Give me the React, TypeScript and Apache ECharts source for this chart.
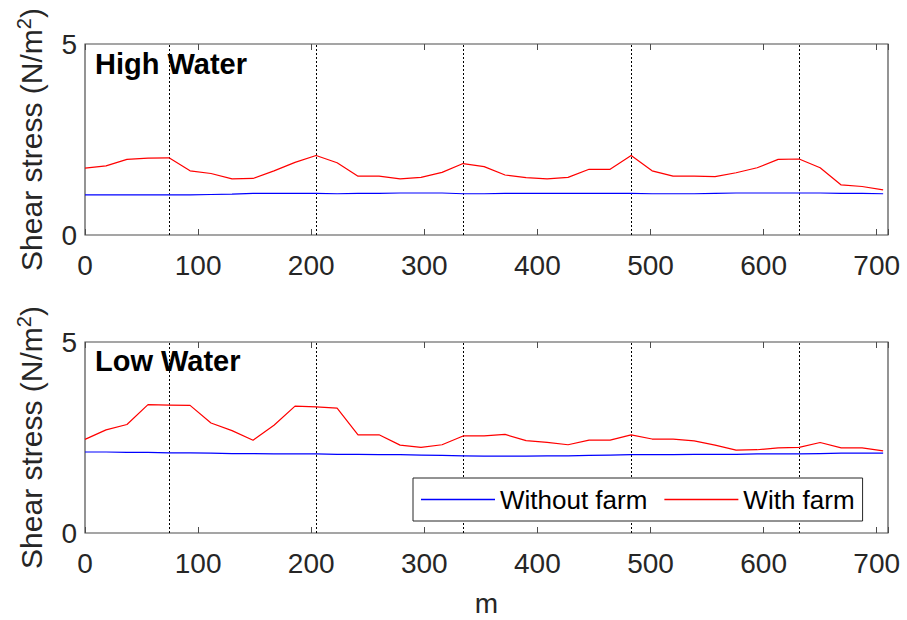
import React, { useEffect, useRef } from "react";
import * as echarts from "echarts";

// Distance along transect (m)
const distance = [
  0, 18.6, 37.1, 55.7, 74.3, 92.9, 111.4, 130, 148.6, 167.1, 185.7, 204.3, 222.9, 241.4, 260,
  278.6, 297.1, 315.7, 334.3, 352.9, 371.4, 390, 408.6, 427.1, 445.7, 464.3, 482.9, 501.4, 520,
  538.6, 557.1, 575.7, 594.3, 612.9, 631.4, 650, 668.6, 687.1, 705.7,
];

// High water
const highWithout = [
  1.05, 1.05, 1.05, 1.05, 1.05, 1.05, 1.06, 1.07, 1.09, 1.09, 1.09, 1.09, 1.08, 1.09, 1.09, 1.1,
  1.1, 1.1, 1.08, 1.08, 1.09, 1.09, 1.09, 1.09, 1.09, 1.09, 1.09, 1.08, 1.08, 1.08, 1.09, 1.1,
  1.1, 1.1, 1.1, 1.1, 1.09, 1.09, 1.08,
];
const highWith = [
  1.75, 1.81, 1.98, 2.01, 2.02, 1.68, 1.61, 1.47, 1.48, 1.68, 1.9, 2.08, 1.89, 1.54, 1.54, 1.47,
  1.51, 1.64, 1.87, 1.79, 1.57, 1.5, 1.47, 1.51, 1.72, 1.72, 2.08, 1.68, 1.54, 1.54, 1.53, 1.63,
  1.76, 1.98, 1.99, 1.76, 1.31, 1.27, 1.18,
];

// Low water
const lowWithout = [
  2.12, 2.12, 2.11, 2.11, 2.1, 2.1, 2.09, 2.08, 2.08, 2.07, 2.07, 2.07, 2.06, 2.06, 2.05, 2.05,
  2.04, 2.03, 2.02, 2.01, 2.01, 2.01, 2.02, 2.02, 2.03, 2.04, 2.05, 2.05, 2.05, 2.06, 2.06, 2.06,
  2.07, 2.07, 2.07, 2.08, 2.09, 2.09, 2.09,
];
const lowWith = [
  2.45, 2.7, 2.84, 3.36, 3.35, 3.34, 2.88, 2.68, 2.43, 2.82, 3.32, 3.3, 3.27, 2.57, 2.57, 2.3,
  2.24, 2.31, 2.54, 2.54, 2.58, 2.42, 2.37, 2.31, 2.43, 2.43, 2.57, 2.46, 2.46, 2.41, 2.3, 2.17,
  2.18, 2.23, 2.24, 2.37, 2.23, 2.23, 2.15,
];

// Farm boundary markers (m)
const farmLines = [74.3, 204.3, 334.3, 482.9, 631.4];

const xTicks = { min: 0, max: 710, interval: 100 };
const yTicks = { min: 0, max: 5, interval: 5 };
const panelTitles = ["High Water", "Low Water"];
const seriesNames = ["Without farm", "With farm"];
const yLabel = "Shear stress (N/m{sup|2})";
const xLabel = "m";

const FONT = "'Liberation Sans', Arial, Helvetica, sans-serif";
const TXT = "#262626";

export default function App() {
  const ref = useRef<HTMLDivElement>(null);
  useEffect(() => {
    if (!ref.current) return;
    const chart = echarts.init(ref.current, undefined, { renderer: "svg" });
    const zip = (ys: number[]) => distance.map((d, i) => [d, ys[i]]);

    const grids = [
      { left: 85, top: 44, width: 803, height: 191 },
      { left: 85, top: 342, width: 803, height: 191 },
    ];

    const xAxes: any[] = [];
    const yAxes: any[] = [];
    grids.forEach((_, g) => {
      xAxes.push({
        type: "value",
        gridIndex: g,
        position: "bottom",
        ...xTicks,
        axisLine: { show: false },
        axisTick: { show: true, inside: true, length: 6, lineStyle: { color: "#4d4d4d", width: 1 } },
        axisLabel: {
          show: true,
          fontSize: 28,
          color: TXT,
          fontFamily: FONT,
          margin: 16,
          formatter: (v: number) => (v > 700 ? "" : String(v)),
        },
        splitLine: { show: false },
        name: g === 1 ? xLabel : "",
        nameLocation: "middle",
        nameGap: 56,
        nameTextStyle: { fontSize: 28, color: TXT, fontFamily: FONT },
      });
      xAxes.push({
        type: "value",
        gridIndex: g,
        position: "top",
        ...xTicks,
        axisLine: { show: false },
        axisTick: { show: true, inside: true, length: 6, lineStyle: { color: "#4d4d4d", width: 1 } },
        axisLabel: { show: false },
        splitLine: { show: false },
      });
      yAxes.push({
        type: "value",
        gridIndex: g,
        ...yTicks,
        axisLine: { show: false },
        axisTick: { show: false },
        axisLabel: { fontSize: 28, color: TXT, fontFamily: FONT, margin: 8 },
        splitLine: { show: false },
        name: yLabel,
        nameLocation: "middle",
        nameGap: 37,
        nameTextStyle: {
          fontSize: 30,
          color: TXT,
          fontFamily: FONT,
          rich: {
            sup: { fontSize: 20, color: TXT, fontFamily: FONT, verticalAlign: "top", padding: [0, 0, 14, 0] },
          },
        },
      });
    });

    const panels = [
      [highWithout, highWith],
      [lowWithout, lowWith],
    ];
    const colors = ["#0000ff", "#ff0000"];
    const series: any[] = [];
    panels.forEach((pair, g) => {
      pair.forEach((ys, k) => {
        series.push({
          type: "line",
          name: seriesNames[k],
          xAxisIndex: g * 2,
          yAxisIndex: g,
          data: zip(ys),
          symbol: "none",
          lineStyle: { color: colors[k], width: 1.2 },
          itemStyle: { color: colors[k] },
          z: 3,
          markLine:
            k === 0
              ? {
                  silent: true,
                  symbol: ["none", "none"],
                  label: { show: false },
                  lineStyle: { type: [2, 2], color: "#000", width: 1 },
                  data: farmLines.map((v) => ({ xAxis: v })),
                  z: 2,
                }
              : undefined,
        });
      });
    });

    chart.setOption({
      animation: false,
      grid: grids.map((g) => ({
        ...g,
        show: true,
        borderColor: "#4d4d4d",
        borderWidth: 1.2,
        backgroundColor: "transparent",
      })),
      xAxis: xAxes,
      yAxis: yAxes,
      legend: {
        show: true,
        data: seriesNames,
        icon: "rect",
        left: 413,
        top: 478,
        orient: "horizontal",
        itemWidth: 74,
        itemHeight: 1.5,
        itemGap: 17,
        padding: [7, 8, 7, 8],
        borderColor: "#262626",
        borderWidth: 1,
        backgroundColor: "#fff",
        textStyle: { fontSize: 26, color: "#000", fontFamily: FONT, lineHeight: 29 },
        selectedMode: false,
      },
      graphic: panelTitles.map((t, i) => ({
        type: "text",
        left: 95,
        top: [49, 346][i],
        style: { text: t, font: `bold 29px ${FONT}`, fill: "#000" },
        z: 10,
      })),
      series,
    });
    return () => chart.dispose();
  }, []);
  return (
    <div
      ref={ref}
      style={{ position: "absolute", left: 0, top: 0, width: 907, height: 620, background: "#fff" }}
    />
  );
}
